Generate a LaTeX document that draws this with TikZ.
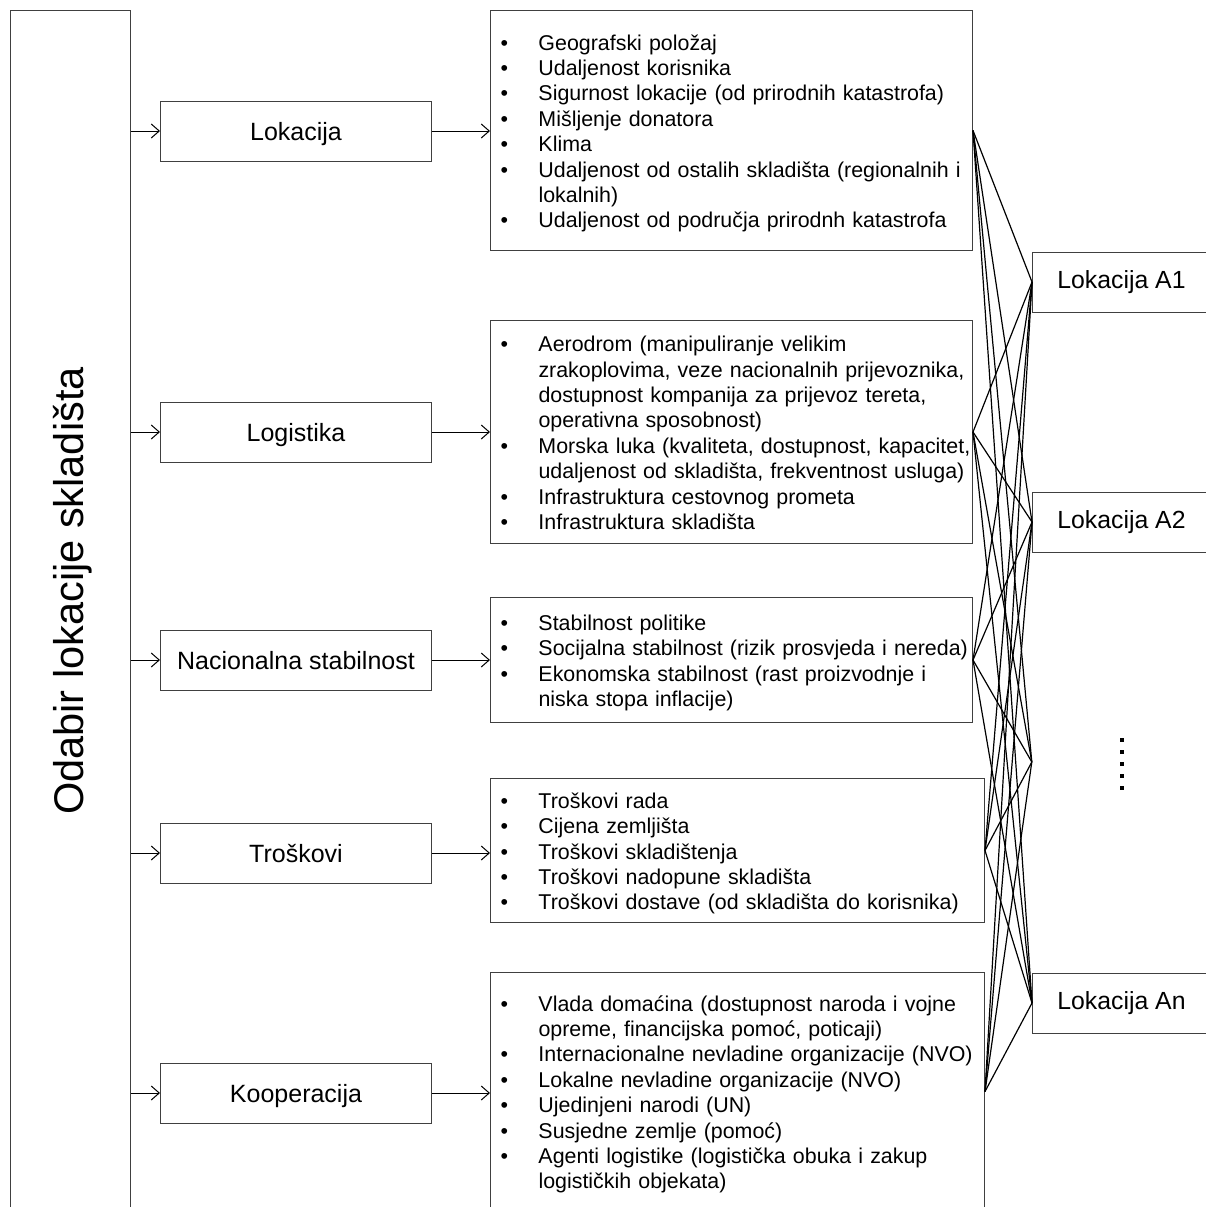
\documentclass[tikz,border=0pt]{standalone}
\usepackage{fontspec}
\setmainfont{Liberation Sans}
\usetikzlibrary{arrows.meta}
\newcommand{\bul}{\textbullet}
\newcommand{\itemrows}[1]{\raisebox{0pt}[\dimexpr\height+7pt\relax][\depth]{%
    \begin{tabular}{@{}p{38pt}@{}l@{}}#1\end{tabular}}}

\begin{document}
\begin{tikzpicture}[x=1pt, y=-1pt,
    box/.style={draw=black!75, line width=1pt},
    cat/.style={box, anchor=west, minimum width=271pt, minimum height=60pt, text height=18pt, text depth=0pt, font=\fontsize{25}{28}\selectfont},
    detail/.style={box, anchor=north west, inner xsep=10pt, inner ysep=0pt, align=left, font=\fontsize{21.4}{25.4}\selectfont},
    loc/.style={box, anchor=west, minimum width=178pt, minimum height=60pt, font=\fontsize{24.8}{28}\selectfont},
    arr/.style={-{Straight Barb[length=8pt,width=14pt]}, line width=1pt},
    link/.style={line width=1.2pt}]
    \useasboundingbox (0,0) rectangle (1206,1207);

    % main box
    \node[box, anchor=north west, minimum width=120pt, minimum height=1230pt, inner sep=0pt] (main) at (10,10) {};
    \node[rotate=90, anchor=base, font=\fontsize{41.5}{48}\selectfont] (title) at (83,591) {Odabir lokacije skladišta};

    % criteria
    \node[cat] (cLok) at (160,131) {Lokacija};
    \node[cat] (cLog) at (160,432) {Logistika};
    \node[cat] (cNac) at (160,660) {Nacionalna stabilnost};
    \node[cat] (cTro) at (160,853) {Troškovi};
    \node[cat] (cKoo) at (160,1093) {Kooperacija};

    % sub-criteria
    \node[detail, text width=462pt, minimum height=240pt] (dLok) at (490,10) {\itemrows{%
            \bul & Geografski položaj\\
            \bul & Udaljenost korisnika\\
            \bul & Sigurnost lokacije (od prirodnih katastrofa)\\
            \bul & Mišljenje donatora\\
            \bul & Klima\\
            \bul & Udaljenost od ostalih skladišta (regionalnih i\\
                 & lokalnih)\\
            \bul & Udaljenost od područja prirodnh katastrofa}};
    \node[detail, text width=462pt, minimum height=223pt] (dLog) at (490,320) {\itemrows{%
            \bul & Aerodrom (manipuliranje velikim\\
                 & zrakoplovima, veze nacionalnih prijevoznika,\\
                 & dostupnost kompanija za prijevoz tereta,\\
                 & operativna sposobnost)\\
            \bul & Morska luka (kvaliteta, dostupnost, kapacitet,\\
                 & udaljenost od skladišta, frekventnost usluga)\\
            \bul & Infrastruktura cestovnog prometa\\
            \bul & Infrastruktura skladišta}};
    \node[detail, text width=462pt, minimum height=125pt] (dNac) at (490,597) {\itemrows{%
            \bul & Stabilnost politike\\
            \bul & Socijalna stabilnost (rizik prosvjeda i nereda)\\
            \bul & Ekonomska stabilnost (rast proizvodnje i\\
                 & niska stopa inflacije)}};
    \node[detail, text width=474pt, minimum height=144pt] (dTro) at (490,778) {\itemrows{%
            \bul & Troškovi rada\\
            \bul & Cijena zemljišta\\
            \bul & Troškovi skladištenja\\
            \bul & Troškovi nadopune skladišta\\
            \bul & Troškovi dostave (od skladišta do korisnika)}};
    \node[detail, text width=474pt, minimum height=238pt] (dKoo) at (490,972) {\itemrows{%
            \bul & Vlada domaćina (dostupnost naroda i vojne\\
                 & opreme, financijska pomoć, poticaji)\\
            \bul & Internacionalne nevladine organizacije (NVO)\\
            \bul & Lokalne nevladine organizacije (NVO)\\
            \bul & Ujedinjeni narodi (UN)\\
            \bul & Susjedne zemlje (pomoć)\\
            \bul & Agenti logistike (logistička obuka i zakup\\
                 & logističkih objekata)}};

    % locations
    \node[loc] (lA1) at (1032,282) {Lokacija A1};
    \node[loc] (lA2) at (1032,522) {Lokacija A2};
    \node[inner sep=0pt, minimum size=0pt] (lDots) at (1032,762) {};
    \node[loc] (lAn) at (1032,1003) {Lokacija An};
    \foreach \k in {0,...,4}
        \fill (1120,738+12*\k) rectangle +(4,4);

    % arrows
    \foreach \c/\d in {cLok/dLok, cLog/dLog, cNac/dNac, cTro/dTro, cKoo/dKoo} {
        \draw[arr] (main.east |- \c.west) -- (\c.west);
        \draw[arr] (\c.east) -- (\c.east -| \d.west);
    }
    \foreach \d in {dLok, dLog, dNac, dTro, dKoo}
        \foreach \l in {lA1, lA2, lDots, lAn}
            \draw[link] (\d.east) -- (\l.west);
\end{tikzpicture}
\end{document}
